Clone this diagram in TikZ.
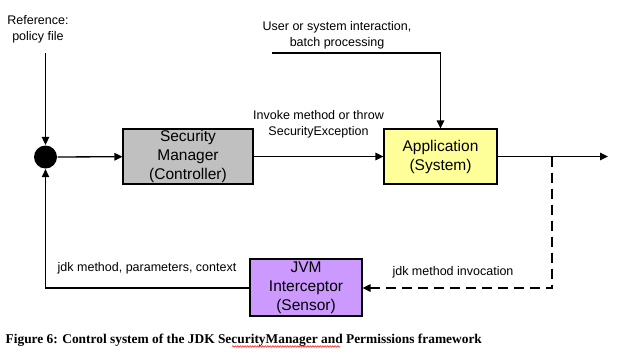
\documentclass[tikz,border=0pt]{standalone}
\usepackage{fontspec}
\setmainfont{Liberation Sans}
\newfontfamily\capfont{Liberation Serif}
\usetikzlibrary{arrows.meta,decorations.pathmorphing}
\begin{document}
\begin{tikzpicture}[x=1pt,y=-1pt,
  line width=1.3pt,
  arr/.style={-{Triangle[length=8pt,width=7.5pt]}},
  blk/.style={draw, line width=1.2pt, minimum width=#1, align=center, inner sep=0pt,
    font=\fontsize{15.5}{19}\selectfont},
  lbl/.style={align=center, inner sep=0pt, font=\fontsize{12.5}{16}\selectfont},
  dsh/.style={dash pattern=on 10pt off 6pt}]
\useasboundingbox[fill=white] (0,0) rectangle (617,357);
% nodes
\node[lbl] (ref) at (38,29) {Reference:\\policy file};
\node[lbl] (user) at (337,35) {User or system interaction,\\batch processing};
\node[circle, fill=black, minimum size=23pt, inner sep=0pt] (sum) at (45.5,157) {};
\node[blk=130pt, minimum height=55pt, fill={rgb,255:red,192;green,192;blue,192}] (sm) at (188,156.5) {Security\\Manager\\(Controller)};
\node[blk=113pt, minimum height=55pt, fill={rgb,255:red,255;green,255;blue,153}] (app) at (440.5,156.5) {Application\\(System)};
\node[blk=112pt, minimum height=57pt, fill={rgb,255:red,204;green,153;blue,255}] (jvm) at (306,287.5) {JVM\\Interceptor\\(Sensor)};
\coordinate (reftop) at (45.5,53);
\coordinate (usr0) at (272,53);
\coordinate (usr1) at (440.5,53);
\coordinate (out) at (608,156.5);
\coordinate (split) at (552,156.5);
\coordinate (dcorner) at (552,288);
\coordinate (lcorner) at (45.5,288);
% connectors
\draw[arr] (reftop) -- (sum);
\draw[arr] (sum) -- (sm);
\draw[arr] (sm) -- node[lbl, above=18pt] {Invoke method or throw\\SecurityException} (app);
\draw[arr] (usr0) -- (usr1) -- (app);
\draw[arr] (app) -- (out);
\draw[arr, dsh] (split) -- (dcorner) -- (jvm.east |- dcorner);
\draw[arr] (jvm.west |- lcorner) -- (lcorner) -- (sum);
\node[lbl] (l1) at (147,268) {jdk method, parameters, context};
\node[lbl] (l2) at (453,272) {jdk method invocation};
% caption
\node[anchor=west, inner sep=0pt, font=\capfont\bfseries\fontsize{13.4}{16}\selectfont] (cap) at (5,340)
  {Figure 6: Control system of the JDK SecurityManager and Permissions framework};
\draw[red, line width=0.5pt, decorate, decoration={snake, amplitude=0.8pt, segment length=2.5pt}] (232,346.5) -- (340,346.5);
\end{tikzpicture}
\end{document}
